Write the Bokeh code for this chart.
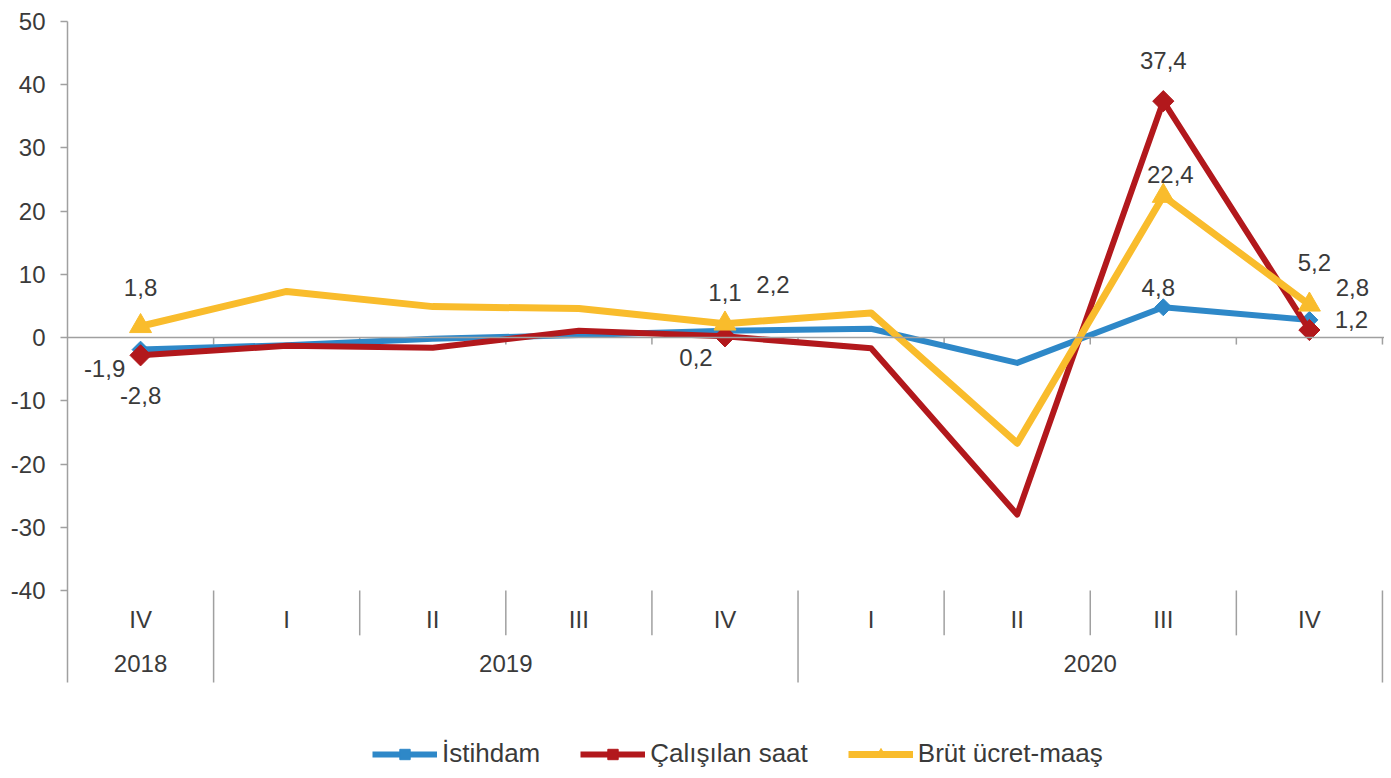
from bokeh.plotting import figure
from bokeh.models import ColumnDataSource, FixedTicker, Span, Legend, LegendItem, Range1d
from bokeh.core.properties import value
from bokeh.embed import file_html
from bokeh.resources import INLINE
import math

# ---------------- data ----------------
quarters = ["IV", "I", "II", "III", "IV", "I", "II", "III", "IV"]
years = ["2018", "2019", "2020"]
year_first = [0, 1, 5]          # first quarter index of each year
year_last = [0, 4, 8]           # last quarter index of each year
istihdam = [-1.9, -1.2, -0.2, 0.4, 1.1, 1.4, -4.0, 4.8, 2.8]
calisilan = [-2.8, -1.3, -1.6, 1.1, 0.2, -1.7, -28.0, 37.4, 1.2]
brut = [1.8, 7.3, 4.9, 4.6, 2.2, 3.9, -16.7, 22.4, 5.2]
series_names = ["İstihdam", "Çalışılan saat", "Brüt ücret-maaş"]
marked = [0, 4, 7, 8]           # quarters that carry a marker and a value label
y_ticks = [-40, -30, -20, -10, 0, 10, 20, 30, 40, 50]

# ---------------- styles / layout ----------------
colors = ["#2E88C8", "#B2181C", "#F9BC2C"]
line_widths = [6, 6, 7]
markers = ["square", "square", "triangle"]
marker_sizes = [12, 15, 22]
marker_angles = [math.pi / 4, math.pi / 4, 0]
# label offsets (screen px) per series for the marked quarters
label_offsets = [
    [(-36, 19), (0, -38), (-5, -20), (43, -32)],
    [(0, 40), (-29, 21), (0, -41), (42, -11)],
    [(0, -39), (48, -39), (7, -21), (5, -42)],
]
FONT = "Liberation Sans"
TXT = "#3A3A3A"
GRID = "#A0A0A0"
Y_BOTTOM_AXIS = -54.56     # lower end of the category table
Y_QROW = -44.6
Y_YROW = -51.55
Y_QSEP = -47.1

x = list(range(len(quarters)))
n = len(quarters)

p = figure(width=1384, height=778, output_backend="svg", toolbar_location=None,
           x_range=Range1d(-0.5, n - 0.5 + 0.014), y_range=Range1d(-69.74, 50),
           min_border_left=67, min_border_right=0, min_border_top=21, min_border_bottom=0)
p.outline_line_color = None
p.xgrid.visible = False
p.ygrid.visible = False
p.xaxis.visible = False
p.background_fill_color = "white"
p.border_fill_color = "white"

ya = p.yaxis[0]
ya.ticker = FixedTicker(ticks=y_ticks)
ya.major_label_overrides = {t: str(t) for t in y_ticks}
ya.bounds = (Y_BOTTOM_AXIS, 50)
ya.axis_line_color = GRID
ya.axis_line_width = 1.5
ya.major_tick_line_color = GRID
ya.major_tick_line_width = 1.5
ya.major_tick_out = 7
ya.major_tick_in = 0
ya.minor_tick_line_color = None
ya.major_label_standoff = 15
ya.major_label_text_font = FONT
ya.major_label_text_font_size = "24px"
ya.major_label_text_color = TXT

# zero line
p.add_layout(Span(location=0, dimension="width", line_color=GRID, line_width=1.5))

# category boundaries
bounds = [i + 0.5 for i in range(n)]
p.segment(x0=bounds, y0=[0] * n, x1=bounds, y1=[-1.1] * n, line_color=GRID, line_width=1.5)
year_bounds = [year_last[k] + 0.5 for k in range(len(years))]
q_bounds = [b for b in bounds if b not in year_bounds]
p.segment(x0=q_bounds, y0=[-40] * len(q_bounds), x1=q_bounds, y1=[Y_QSEP] * len(q_bounds),
          line_color=GRID, line_width=1.5)
p.segment(x0=year_bounds, y0=[-40] * len(year_bounds), x1=year_bounds,
          y1=[Y_BOTTOM_AXIS] * len(year_bounds), line_color=GRID, line_width=1.5)

# category labels
p.text(x=x, y=[Y_QROW] * n, text=quarters, text_font=value(FONT), text_font_size="24px",
       text_color=TXT, text_align="center", text_baseline="middle")
year_x = [(a + b) / 2 for a, b in zip(year_first, year_last)]
p.text(x=year_x, y=[Y_YROW] * len(years), text=years, text_font=value(FONT), text_font_size="24px",
       text_color=TXT, text_align="center", text_baseline="middle")

# series
all_series = [istihdam, calisilan, brut]
items = []
for k, vals in enumerate(all_series):
    lr = p.line(x, vals, line_color=colors[k], line_width=line_widths[k], line_join="round")
    mx = [x[i] for i in marked]
    my = [vals[i] for i in marked]
    mr = p.scatter(mx, my, marker=markers[k], size=marker_sizes[k], angle=marker_angles[k],
                   fill_color=colors[k], line_color=colors[k])
    items.append(LegendItem(label=series_names[k], renderers=[lr, mr]))

# value labels
lx, ly, lt, lxo, lyo = [], [], [], [], []
for k, vals in enumerate(all_series):
    for j, i in enumerate(marked):
        lx.append(x[i])
        ly.append(vals[i])
        lt.append(f"{vals[i]:.1f}".replace(".", ","))
        lxo.append(label_offsets[k][j][0])
        lyo.append(label_offsets[k][j][1])
src = ColumnDataSource(dict(x=lx, y=ly, t=lt, xo=lxo, yo=lyo))
p.text(x="x", y="y", text="t", x_offset="xo", y_offset="yo", source=src,
       text_font=value(FONT), text_font_size="24px", text_color=TXT,
       text_align="center", text_baseline="middle")

legend = Legend(items=items, orientation="horizontal", location=(305, 9),
                glyph_width=65, glyph_height=26, label_height=26, label_standoff=5, spacing=40,
                padding=0, margin=0, border_line_color=None, background_fill_alpha=0,
                label_text_font=FONT, label_text_font_size="26px", label_text_color=TXT)
p.add_layout(legend)

open("out.html", "w").write(file_html(p, INLINE))
